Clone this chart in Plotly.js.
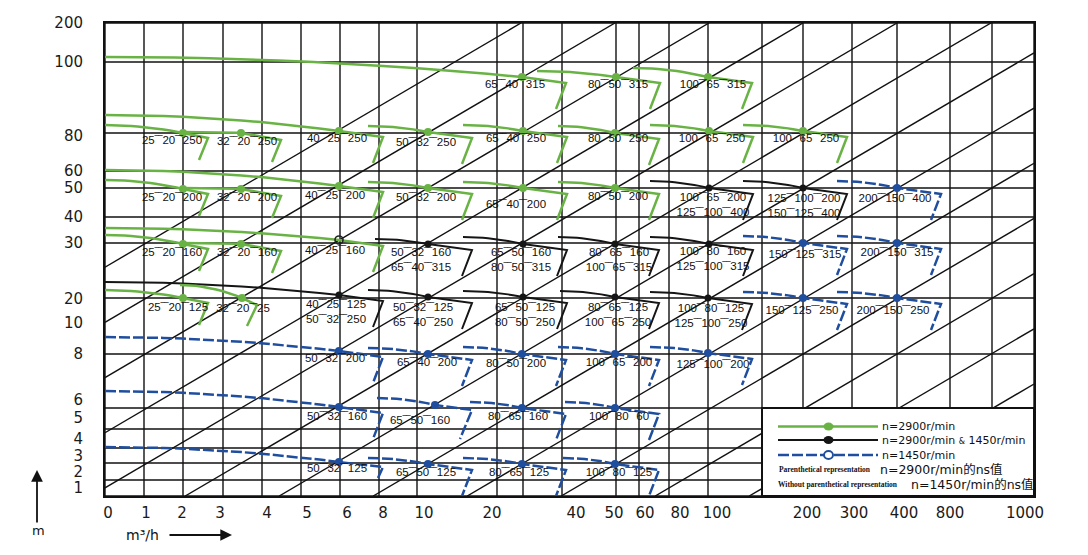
<!DOCTYPE html>
<html><head><meta charset="utf-8">
<script src="https://cdn.plot.ly/plotly-3.0.1.min.js"></script>
<style>html,body{margin:0;padding:0;background:#fff}</style>
</head><body>
<div id="chart" style="width:1088px;height:555px"></div>
<script>
// ---- Axis scale (schematic nomogram scale: label -> position on the chart scale) ----
const xTickText = ['0','1','2','3','4','5','6','8','10','20','40','50','60','80','100','200','300','400','800','1000'];
const xTickPos  = [108,146,182,220,267,307,347,383,424,492,576,614,645,680,717,807,854,904,950,1025];
const yTickText = ['200','100','80','60','50','40','30','20','10','8','6','5','4','3','2','1'];
const yTickPos  = [23,62,136,171,188,217,243,299,323,354,400,418,439,456,472,488];
// grid lines on the same scale
const xGrid = [105,144,183,223,262,301,340,379,417,497,523,562,616,639,669,708,762,803,852,897,950,992,1034];
const yGrid = [23,62,133,171,188,217,243,298,354,408,429,448,463,480,496];
// oblique guide lines: where each one meets the top edge, and their common slope
const diagTop = [521,615,709,803,897,991,1085,1179,1273,1367,1461,1555,1649,1743,1837];
const diagSlope = 0.587;

// ---- Pump models (duty point on the chart scale) ----
const pumpName = [
  '65-40-315','80-50-315','100-65-315',
  '25-20-250','32-20-250','40-25-250','50-32-250','65-40-250','80-50-250','100-65-250','100-65-250',
  '25-20-200','32-20-200','40-25-200','50-32-200','65-40-200','80-50-200',
  '25-20-160','32-20-160','40-25-160',
  '25-20-125','32-20-25',
  '40-25-125','50-32-125','65-50-125','80-65-125','100-80-125',
  '50-32-160','65-50-160','80-65-160','100-80-160',
  '100-65-200','125-100-200',
  '150-125-250','200-150-250','150-125-315','200-150-315','200-150-400',
  '50-32-200','65-40-200','80-50-200','100-65-200','125-100-200',
  '50-32-160','65-50-160','80-65-160','100-80-60',
  '50-32-125','65-50-125','80-65-125','100-80-125'
];
const pumpName2 = [
  null,null,null,
  null,null,null,null,null,null,null,null,
  null,null,null,null,null,null,
  null,null,null,
  null,null,
  '50-32-250','65-40-250','80-50-250','100-65-250','125-100-250',
  '65-40-315','80-50-315','100-65-315','125-100-315',
  '125-100-400','150-125-400',
  null,null,null,null,null,
  null,null,null,null,null,
  null,null,null,null,
  null,null,null,null
];
const pumpQ = [
  522,616,708,
  183,241,339,428,523,615,709,803,
  183,241,339,428,523,615,
  183,241,339,
  183,242,
  339,428,523,615,708,
  428,523,615,709,
  709,803,
  803,897,803,897,897,
  339,428,522,615,708,
  339,435,522,615,
  339,428,522,615
];
const pumpH = [
  77,77,77,
  133,133,131,132,131,133,131,131,
  189,189,186,188,188,188,
  244,244,240,
  298,298,
  295,297,297,297,298,
  244,244,244,244,
  188,188,
  298,298,243,243,188,
  351,354,354,354,353,
  407,405,408,408,
  462,464,464,464
];
// g: n=2900, k: n=2900 & 1450, b: n=1450
const pumpSpeed = [
  'g','g','g',
  'g','g','g','g','g','g','g','g',
  'g','g','g','g','g','g',
  'g','g','g',
  'g','g',
  'k','k','k','k','k',
  'k','k','k','k',
  'k','k',
  'b','b','b','b','b',
  'b','b','b','b','b',
  'b','b','b','b',
  'b','b','b','b'
];
const openMarker = [19];

// ---- Curve drawing parameters (geometry of each H-Q curve glyph) ----
const curveRun = [
  0,79,75,
  0,58,0,60,60,57,59,60,
  0,58,0,60,60,57,
  0,58,0,
  0,62,
  0,60,60,55,58,
  53,60,57,59,
  59,60,
  60,60,60,60,60,
  0,60,59,57,58,
  0,58,52,50,
  0,60,59,52
];
const curveRise = [
  20,6,9,
  8,1,16,6,6,7,6,6,
  9,1,16,6,6,6,
  9,1,12,
  8,13,
  13,7,6,6,6,
  5,7,7,7,
  7,7,
  6,6,7,7,7,
  14,6,7,7,6,
  16,7,6,6,
  15,6,6,6
];
const curveHook = [
  'D','D','D',
  'S','M','D','D','D','D','D','D',
  'S','M','D','D','D','D',
  'S','M','D',
  'S','T',
  'D','D','D','D','D',
  'D','D','D','D',
  'D','D',
  'D','D','D','D','D',
  'D','D','D','D','D',
  'D','N','D','D',
  'B','D','D','D'
];
const hookShape = {D:[44,6,34,32], S:[25,5,16,27], M:[40,7,31,29], T:[15,7,5,28], N:[37,5,25,34], B:[44,5,39,16]};
const labelDx = [
  -7,2,5,
  -11,6,-2,-2,-7,3,3,3,
  -11,6,-4,-2,-7,3,
  -11,6,-4,
  -5,1,
  -3,-5,2,3,3,
  -7,-2,4,4,
  4,1,
  -1,-4,2,0,-2,
  -4,-1,-6,4,5,
  -2,-15,-4,4,
  -2,-2,-3,4
];
const labelDy = [
  8,8,8,
  8,9,8,11,8,6,8,8,
  9,9,10,10,17,9,
  9,9,11,
  10,11,
  10,11,11,11,11,
  9,9,9,8,
  10,11,
  13,13,12,10,11,
  8,9,10,9,12,
  10,16,9,9,
  7,9,9,9
];

const COL = {g:'#69b345', k:'#151515', b:'#1f4e9e'};
const SEP = '\u203E\u203E';
const fmt = s => s.split('-').join(SEP);

const traces = [];

// grid
(function(){
  const gx=[], gy=[];
  xGrid.forEach(v=>{gx.push(v,v,null); gy.push(yGrid[0], yGrid[yGrid.length-1], null);});
  yGrid.forEach(v=>{gx.push(xGrid[0], xGrid[xGrid.length-1], null); gy.push(v,v,null);});
  traces.push({x:gx,y:gy,mode:'lines',line:{color:'#111',width:1.4},hoverinfo:'skip'});
})();

// oblique lines, clipped to the frame
(function(){
  const L=xGrid[0], R=xGrid[xGrid.length-1], T=yGrid[0], B=yGrid[yGrid.length-1];
  const dx=[], dy=[];
  diagTop.forEach(xt=>{
    const xa = Math.max(L, xt-(B-T)/diagSlope), xb = Math.min(R, xt);
    if (xb<=xa) return;
    dx.push(xa, xb, null);
    dy.push(T+(xt-xa)*diagSlope, T+(xt-xb)*diagSlope, null);
  });
  traces.push({x:dx,y:dy,mode:'lines',line:{color:'#111',width:1.4},hoverinfo:'skip'});
})();

// pump curves
function curve(i){
  const x1=pumpQ[i], y1=pumpH[i];
  const x0 = curveRun[i]===0 ? xGrid[0] : x1-curveRun[i];
  const r = curveRise[i];
  const xs=[], ys=[];
  for(let s=0;s<=12;s++){const t=s/12; xs.push(x0+(x1-x0)*t); ys.push(y1-r*(1-t*t));}
  const h=hookShape[curveHook[i]];
  xs.push(x1+h[0], x1+h[2]); ys.push(y1+h[1], y1+h[3]);
  return [xs,ys];
}
['k','g','b'].forEach(sp=>{
  const cx=[], cy=[];
  pumpName.forEach((n,i)=>{ if(pumpSpeed[i]!==sp) return; const [a,b]=curve(i); cx.push(...a,null); cy.push(...b,null); });
  traces.push({x:cx,y:cy,mode:'lines',line:{color:COL[sp],width:sp==='k'?2:2.5,dash:sp==='b'?'11px,3px':'solid'},hoverinfo:'skip'});
});

// duty points
['g','k','b'].forEach(sp=>{
  const mx=[], my=[];
  pumpName.forEach((n,i)=>{ if(pumpSpeed[i]!==sp || openMarker.includes(i)) return; mx.push(pumpQ[i]); my.push(pumpH[i]); });
  traces.push({x:mx,y:my,mode:'markers',marker:{color:COL[sp],size:sp==='k'?7:8},hoverinfo:'skip'});
});
traces.push({x:openMarker.map(i=>pumpQ[i]), y:openMarker.map(i=>pumpH[i]), mode:'markers',
  marker:{symbol:'circle-open',color:'#222',size:8,line:{width:1.6}},hoverinfo:'skip'});

// model labels
(function(){
  const tx=[], ty=[], tt=[];
  pumpName.forEach((n,i)=>{
    tx.push(pumpQ[i]+labelDx[i]); ty.push(pumpH[i]+labelDy[i]); tt.push(fmt(n));
    if(pumpName2[i]){ tx.push(pumpQ[i]+labelDx[i]); ty.push(pumpH[i]+labelDy[i]+15); tt.push(fmt(pumpName2[i])); }
  });
  traces.push({x:tx,y:ty,text:tt,mode:'text',textposition:'middle center',cliponaxis:false,
    textfont:{family:'Liberation Sans, Arial, sans-serif',size:11.5,color:'#111'},hoverinfo:'skip'});
})();

// legend (drawn inside the chart frame)
const shapes = [
  {type:'rect',xref:'x',yref:'y',x0:762,x1:1034,y0:408,y1:496,fillcolor:'#fff',line:{color:'#111',width:2},layer:'above'},
  {type:'line',xref:'x',yref:'y',x0:778,x1:878,y0:426.5,y1:426.5,line:{color:COL.g,width:2.5},layer:'above'},
  {type:'line',xref:'x',yref:'y',x0:778,x1:878,y0:440,y1:440,line:{color:COL.k,width:2},layer:'above'},
  {type:'line',xref:'x',yref:'y',x0:778,x1:878,y0:455,y1:455,line:{color:COL.b,width:2.5,dash:'11px,3px'},layer:'above'},
  {type:'circle',xref:'x',yref:'y',x0:823.5,x1:833.5,y0:422.5,y1:430.5,fillcolor:COL.g,line:{width:0},layer:'above'},
  {type:'circle',xref:'x',yref:'y',x0:823.5,x1:833.5,y0:436,y1:444,fillcolor:COL.k,line:{width:0},layer:'above'},
  {type:'circle',xref:'x',yref:'y',x0:824,x1:833,y0:451,y1:459,fillcolor:'#fff',line:{color:COL.b,width:2},layer:'above'}
];
const lf = {family:'DejaVu Sans, Noto Sans CJK SC, sans-serif',size:11,color:'#111'};
const sf = {family:'Liberation Serif, serif',size:7.5,color:'#111'};
const bf = {family:'DejaVu Sans, Noto Sans CJK SC, sans-serif',size:12.5,color:'#111'};
const A = (x,y,text,font,extra)=>Object.assign({x,y,xref:'x',yref:'y',text,font,showarrow:false,xanchor:'left',yanchor:'middle'},extra||{});
// outside-the-frame decorations use paper coordinates
const PL=105, PW=929, PB=496, PH=473;
const px = v => (v-PL)/PW, py = v => (PB-v)/PH;
const P = (x,y,text,font,extra)=>Object.assign({x:px(x),y:py(y),xref:'paper',yref:'paper',text,font,showarrow:false,xanchor:'center',yanchor:'middle'},extra||{});
const annotations = [
  A(880,426.5,'n=2900r/min',lf),
  A(880,440,"n=2900r/min <span style='font-size:8px'>&amp;</span> 1450r/min",lf),
  A(880,455,'n=1450r/min',lf),
  A(777,469,'<b>Parenthetical representation</b>',sf),
  A(878,469,'n=2900r/min的ns值',bf),
  A(776,484,'<b>Without parenthetical representation</b>',sf),
  A(909,484,'n=1450r/min的ns值',bf),
  P(38,530,'m',{family:'DejaVu Sans',size:13,color:'#111'}),
  P(124,535,'m³/h',{family:'DejaVu Sans',size:14,color:'#111'},{xanchor:'left'}),
  P(37,470,'',null,{showarrow:true,ax:0,ay:54,arrowhead:2,arrowsize:1.3,arrowwidth:1.8,arrowcolor:'#111'}),
  P(232,535,'',null,{showarrow:true,ax:-64,ay:0,arrowhead:2,arrowsize:1.3,arrowwidth:1.8,arrowcolor:'#111'})
];
annotations.forEach(a=>{ if(a.font===null) delete a.font; });

const axisFont = {family:'DejaVu Sans, sans-serif',size:15,color:'#1a1a1a'};
const layout = {
  width:1088,height:555,margin:{l:105,r:54,t:23,b:59,pad:0},
  paper_bgcolor:'#fff',plot_bgcolor:'#fff',showlegend:false,hovermode:false,
  xaxis:{range:[xGrid[0],xGrid[xGrid.length-1]],tickmode:'array',tickvals:xTickPos,ticktext:xTickText,ticks:'',
    showgrid:false,zeroline:false,showline:true,mirror:true,linecolor:'#111',linewidth:2,tickfont:axisFont,ticklabelstandoff:2,fixedrange:true},
  yaxis:{range:[yGrid[yGrid.length-1],yGrid[0]],tickmode:'array',tickvals:yTickPos,ticktext:yTickText,ticks:'',
    showgrid:false,zeroline:false,showline:true,mirror:true,linecolor:'#111',linewidth:2,tickfont:axisFont,ticklabelstandoff:17,fixedrange:true},
  shapes,annotations
};
Plotly.newPlot('chart',traces,layout,{displayModeBar:false,staticPlot:true});
</script>
</body></html>
